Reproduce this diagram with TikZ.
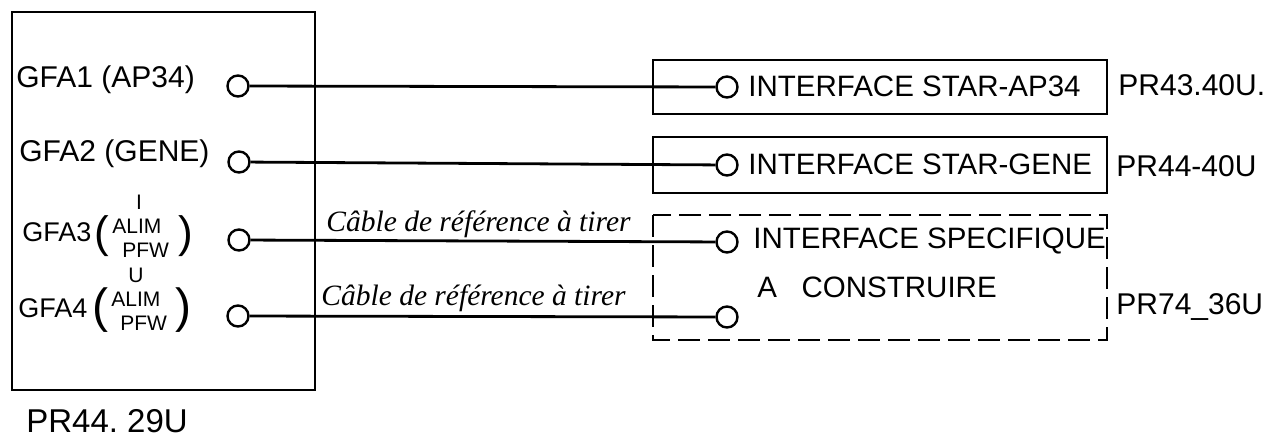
\documentclass[tikz,border=0pt]{standalone}
\usepackage{fontspec}
\setmainfont{Liberation Sans}
\newfontfamily\cursive{Liberation Serif}
\begin{document}
\begin{tikzpicture}[x=1pt,y=-1pt,line width=2.8pt,
  port/.style={circle,draw,line width=2.4pt,minimum size=21pt,inner sep=0pt},
  wire/.style={line width=2.8pt},
  lbl/.style={anchor=west,inner sep=0pt,font=\fontsize{30}{32}\selectfont},
  gfa/.style={anchor=west,inner sep=0pt,font=\fontsize{27}{29}\selectfont},
  sml/.style={anchor=west,inner sep=0pt,font=\fontsize{21}{21}\selectfont},
  par/.style={inner sep=0pt,font=\fontsize{44}{44}\selectfont},
  itf/.style={anchor=west,inner sep=0pt,font=\fontsize{29.5}{31}\selectfont},
  prl/.style={anchor=west,inner sep=0pt,font=\fontsize{30}{32}\selectfont},
  cbl/.style={anchor=west,inner sep=0pt,font=\cursive\itshape\fontsize{29.5}{31}\selectfont},
  dsh/.style={dash pattern=on 22pt off 8pt}]
\useasboundingbox (0,0) rectangle (1272,441);
% left box
\draw (12,12) rectangle (315,390);
\node[lbl] (g1) at (15,80) {GFA1 (AP34)};
\node[lbl] (g2) at (18,154) {GFA2 (GENE)};
% GFA3 with stacked label
\node[gfa] (g3) at (21,232) {GFA3};
\node[par] (o3) at (102,236) {(};
\node[sml] (a3) at (111,226) {ALIM};
\node[sml] (f3) at (121,250) {PFW};
\node[par] (e3) at (186,236) {)};
\node[sml,anchor=center] (t3) at (139,202) {I};
% GFA4 with stacked label
\node[gfa] (g4) at (17,308) {GFA4};
\node[par,font=\fontsize{48}{48}\selectfont] (o4) at (100,310) {(};
\node[sml] (a4) at (110,299) {ALIM};
\node[sml] (f4) at (119,323) {PFW};
\node[par,font=\fontsize{48}{48}\selectfont] (e4) at (183,310) {)};
\node[sml,anchor=center] (t4) at (136,275) {U};
\node[anchor=west,inner sep=0pt,font=\fontsize{33}{35}\selectfont] (pr0) at (25,421) {PR44.\ 29U};
% ports on left box
\node[port] (l1) at (238,86) {};
\node[port] (l2) at (239,162) {};
\node[port] (l3) at (239,240) {};
\node[port] (l4) at (238,316) {};
% right boxes
\draw (653,60) rectangle (1107,114);
\draw (653,137) rectangle (1107,193);
\draw[dsh] (653,215) rectangle (1107,340);
\node[port] (r1) at (727,87) {};
\node[port] (r2) at (727,165) {};
\node[port] (r3) at (727,242) {};
\node[port] (r4) at (727,317) {};
\node[itf] (i1) at (747,86) {INTERFACE STAR-AP34};
\node[itf] (i2) at (747,164) {INTERFACE STAR-GENE};
\node[itf] (i3) at (752,241) {INTERFACE SPECIFIQUE};
\node[itf] (i4) at (756,287) {A\ \ \ CONSTRUIRE};
\node[prl] (p1) at (1117,85) {PR43.40U.};
\node[prl] (p2) at (1115,166) {PR44-40U};
\node[prl] (p3) at (1115,307) {PR74\_36U};
% wires
\draw[wire] (l1) -- (r1);
\draw[wire] (l2) -- (r2);
\draw[wire] (l3) -- (r3);
\draw[wire] (l4) -- (r4);
\node[cbl] (c3) at (325,224) {Câble de référence à tirer};
\node[cbl] (c4) at (320,298) {Câble de référence à tirer};
\end{tikzpicture}
\end{document}
